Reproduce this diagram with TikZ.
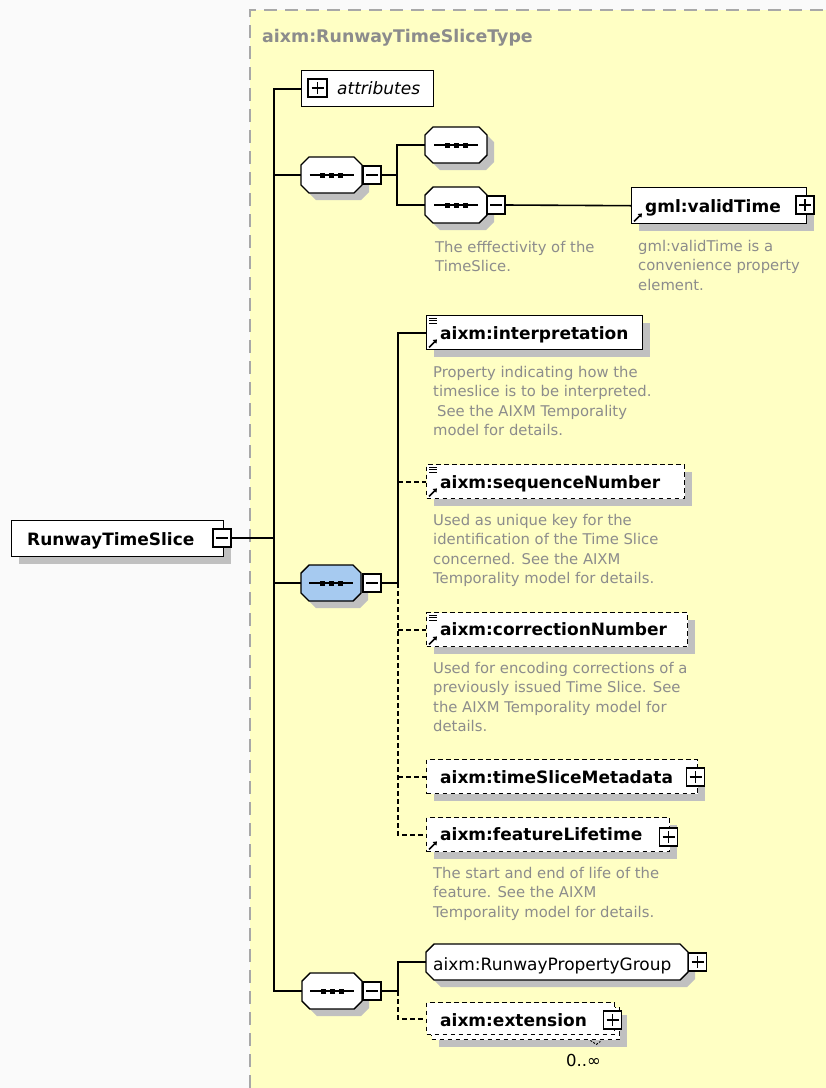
\documentclass[tikz,border=0pt]{standalone}
\usepackage{fontspec}
\setmainfont{DejaVu Sans}
\usetikzlibrary{shadows,arrows.meta}

\definecolor{paper}{HTML}{FAFAFA}
\definecolor{typebg}{HTML}{FFFFC4}
\definecolor{frame}{HTML}{A8A8A8}
\definecolor{shadowgray}{HTML}{C0C0C0}
\definecolor{notegray}{HTML}{8C8C8C}
\definecolor{selblue}{HTML}{A6CAF0}

% octagon outline from two corners and a chamfer size
\newcommand\octo[5]{(#1+#5,#2) -- (#3-#5,#2) -- (#3,#2+#5) -- (#3,#4-#5) -- (#3-#5,#4) -- (#1+#5,#4) -- (#1,#4-#5) -- (#1,#2+#5) -- cycle}

% sequence compositor: name, x0, y0, x1, y1, fill colour
\newcommand\compositor[6]{%
  \fill[shadowgray] \octo{#2+7}{#3+7}{#4+7}{#5+7}{8};
  \filldraw[fill=#6, draw=black, line width=1.4pt] \octo{#2}{#3}{#4}{#5}{8};
  \node[inner sep=0pt, minimum width={#4-#2}, minimum height={#5-#3}] (#1) at ({(#2+#4)/2},{(#3+#5)/2}) {};
  \draw[line width=1.5pt] ([xshift=-22pt]#1.center) -- ([xshift=22pt]#1.center);
  \foreach \dx in {-11.5,-2.5,6.5} \fill ([shift={(\dx,-2.5)}]#1.center) rectangle ++(5,5);
}

% reference arrow in the lower left corner of an element box
\newcommand\refarrow[1]{%
  \draw[line width=1.6pt, -{Triangle[length=3.5pt,width=5pt]}] ([shift={(3,-3)}]#1.south west) -- ([shift={(11,-11)}]#1.south west);}
% simple-content mark in the upper left corner of an element box
\newcommand\simplemark[1]{%
  \foreach \dy in {3,5.5,8} \draw[line width=0.9pt] ([shift={(3,\dy)}]#1.north west) -- ++(8,0);}

\tikzset{
  shadowed/.style={drop shadow={shadow xshift=7pt, shadow yshift=-7pt, fill=shadowgray, opacity=1}},
  elem/.style={draw, line width=1.4pt, fill=white, rectangle, inner sep=0pt, anchor=north west},
  optional/.style={dash pattern=on 4.5pt off 3.5pt},
  pmbox/.style={draw, line width=1.3pt, fill=white, rectangle, inner sep=0pt, minimum width=18pt, minimum height=18pt},
  plus/.style={pmbox, path picture={
      \draw[line width=1.2pt] ([xshift=-6pt]path picture bounding box.center) -- ([xshift=6pt]path picture bounding box.center)
                              ([yshift=-6pt]path picture bounding box.center) -- ([yshift=6pt]path picture bounding box.center);}},
  minus/.style={pmbox, path picture={
      \draw[line width=1.2pt] ([xshift=-6pt]path picture bounding box.center) -- ([xshift=6pt]path picture bounding box.center);}},
  lbl/.style={font=\bfseries\fontsize{17}{20}\selectfont, inner sep=0pt, anchor=base west},
  plainlbl/.style={font=\fontsize{17}{20}\selectfont, inner sep=0pt, anchor=base west},
  note/.style={font=\fontsize{14.8}{19.5}\selectfont, text=notegray, align=left, inner sep=0pt, anchor=north west},
  title/.style={font=\bfseries\fontsize{17.4}{20}\selectfont, text=notegray, inner sep=0pt, anchor=base west},
  link/.style={line width=1.6pt},
  optlink/.style={line width=1.6pt, dash pattern=on 4.5pt off 3.5pt}
}

\begin{document}
\begin{tikzpicture}[x=1pt, y=-1pt]
\useasboundingbox (0,0) rectangle (826,1088);
\fill[paper] (0,0) rectangle (826,1088);

% complex type area
\fill[typebg] (250,10) rectangle (826,1088);
\draw[frame, line width=2pt, dash pattern=on 13pt off 8pt] (250,1088) -- (250,10) -- (826,10);
\node[title] (ttl) at (262,42) {aixm:RunwayTimeSliceType};

% root element
\node[elem, shadowed, minimum width=212, minimum height=36] (root) at (11,520) {};
\node[lbl] (root-t) at (27,545) {RunwayTimeSlice};
\node[minus] (root-m) at (222,538) {};

% attributes
\node[elem, minimum width=132, minimum height=36] (attr) at (301,70) {};
\node[plus, minimum width=19] (attr-p) at (317.5,88) {};
\node[plainlbl, font=\itshape\fontsize{17}{20}\selectfont] (attr-t) at (337,94) {attributes};

% first sequence with its two nested sequences
\compositor{seqA}{301}{157}{362}{193}{white}
\node[minus] (seqA-m) at (372,175) {};
\compositor{ch1}{425}{127}{487}{163}{white}
\compositor{ch2}{425}{187}{487}{223}{white}
\node[minus] (ch2-m) at (496,205) {};
\node[note] (ch2-n) at (435,241) {The efffectivity of the\\TimeSlice.};

\node[elem, shadowed, minimum width=175, minimum height=36] (valid) at (631,187) {};
\node[lbl] (valid-t) at (645,212) {gml:validTime};
\node[plus] (valid-p) at (805,205) {};
\refarrow{valid}
\node[note] (valid-n) at (638,240) {gml:validTime is a\\convenience property\\element.};

% selected sequence with the time slice properties
\compositor{blue}{301}{565}{361}{601}{selblue}
\node[minus] (blue-m) at (372,583) {};

\node[elem, shadowed, minimum width=216, minimum height=34] (interp) at (426,315) {};
\node[lbl] (interp-t) at (440,339) {aixm:interpretation};
\simplemark{interp}\refarrow{interp}
\node[note] (interp-n) at (433,366) {Property indicating how the\\timeslice is to be interpreted.\\\hspace{4pt}See the AIXM Temporality\\model for details.};

\node[elem, optional, shadowed, minimum width=258, minimum height=34] (seqn) at (426,464) {};
\node[lbl] (seqn-t) at (440,488) {aixm:sequenceNumber};
\simplemark{seqn}\refarrow{seqn}
\node[note] (seqn-n) at (433,514) {Used as unique key for the\\identification of the Time Slice\\concerned. See the AIXM\\Temporality model for details.};

\node[elem, optional, shadowed, minimum width=261, minimum height=34] (corr) at (426,612) {};
\node[lbl] (corr-t) at (440,635) {aixm:correctionNumber};
\simplemark{corr}\refarrow{corr}
\node[note] (corr-n) at (433,662) {Used for encoding corrections of a\\previously issued Time Slice. See\\the AIXM Temporality model for\\details.};

\node[elem, optional, shadowed, minimum width=271, minimum height=34] (tsm) at (426,759) {};
\node[lbl] (tsm-t) at (440,783) {aixm:timeSliceMetadata};
\node[plus] (tsm-p) at (695.5,777) {};

\node[elem, optional, shadowed, minimum width=243, minimum height=34] (flt) at (426,817) {};
\node[lbl] (flt-t) at (440,840) {aixm:featureLifetime};
\node[plus] (flt-p) at (668.5,837) {};
\refarrow{flt}
\node[note] (flt-n) at (433,867) {The start and end of life of the\\feature. See the AIXM\\Temporality model for details.};

% last sequence with the property group and the extension
\compositor{seqC}{302}{973}{362}{1009}{white}
\node[minus] (seqC-m) at (372,991) {};

\fill[shadowgray] \octo{433}{951}{695}{987}{8};
\filldraw[fill=white, draw=black, line width=1.4pt] \octo{426}{944}{688}{980}{8};
\node[inner sep=0pt, minimum width=262, minimum height=36] (rpg) at (557,962) {};
\node[plainlbl] (rpg-t) at (433,970) {aixm:RunwayPropertyGroup};
\node[plus] (rpg-p) at (697.5,962) {};

\node[elem, optional, shadowed, minimum width=188, minimum height=32] (ext-b) at (431,1007) {};
\node[elem, optional, minimum width=188, minimum height=32] (ext) at (426,1002) {};
\node[lbl] (ext-t) at (440,1026) {aixm:extension};
\node[plus] (ext-p) at (612.5,1020) {};
\node[plainlbl, font=\fontsize{16.5}{18}\selectfont] (occ) at (566,1066) {0..∞};
\draw[line width=0.9pt, dash pattern=on 2pt off 1.5pt] ([xshift=-30pt]ext-b.south east) -- ++(6,4) -- ++(4,-3);

% connectors of the outer sequence
\coordinate (tk) at (274,0);
\draw[link] (attr.west) -- (tk |- attr.west) -- (tk |- seqC.west) -- (seqC.west);
\draw[link] (tk |- seqA.west) -- (seqA.west);
\draw[link] (tk |- blue.west) -- (blue.west);
\draw[link] (root-m.east) -- (tk |- root-m.east);

% first sequence
\coordinate (sa) at (397,0);
\draw[link] (seqA-m.east) -- (sa |- seqA-m.east);
\draw[link] (ch1.west) -- (sa |- ch1.west) -- (sa |- ch2.west) -- (ch2.west);
\draw[link] (ch2-m.east) -- (valid.west);

% selected sequence
\coordinate (sb) at (398,0);
\draw[link] (blue-m.east) -- (sb |- blue-m.east);
\draw[link] (interp.west) -- (sb |- interp.west) -- (sb |- blue-m.east);
\draw[optlink] (sb |- blue-m.east) -- (sb |- flt.west) -- (flt.west);
\draw[optlink] (sb |- seqn.west) -- (seqn.west);
\draw[optlink] (sb |- corr.west) -- (corr.west);
\draw[optlink] (sb |- tsm.west) -- (tsm.west);

% last sequence
\draw[link] (seqC-m.east) -- (sb |- seqC-m.east);
\draw[link] (rpg.west) -- (sb |- rpg.west) -- (sb |- seqC-m.east);
\draw[optlink] (sb |- seqC-m.east) -- (sb |- ext.west) -- (ext.west);
\end{tikzpicture}
\end{document}
